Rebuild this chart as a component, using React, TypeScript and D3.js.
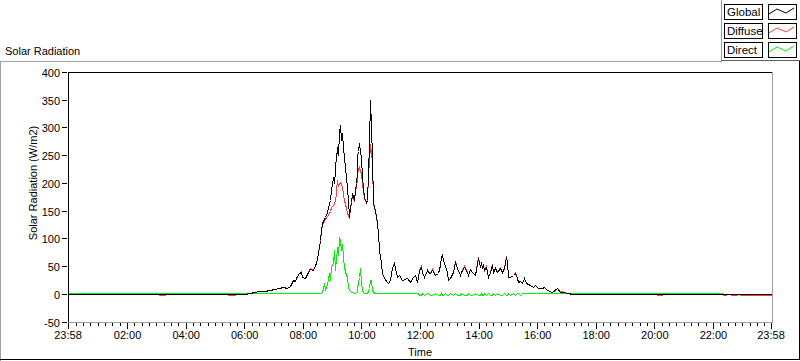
import React from 'react';
import * as d3 from 'd3';

// ---- data ----
const times = [
  '23:58','03:04','03:05','03:17','03:18','05:25','05:26','05:42','05:43','05:50',
  '06:00','06:11','06:20','06:31','06:40','06:52','07:00','07:12','07:20','07:27',
  '07:33','07:39','07:43','07:47','07:53','07:57','07:59','08:05','08:10','08:14',
  '08:20','08:24','08:28','08:32','08:36','08:38','08:40','08:44','08:46','08:49',
  '08:53','08:55','08:58','09:01','09:03','09:05','09:07','09:09','09:11','09:13',
  '09:15','09:17','09:19','09:21','09:23','09:25','09:28','09:30','09:32','09:34',
  '09:36','09:38','09:40','09:42','09:44','09:46','09:48','09:50','09:52','09:54',
  '09:56','09:58','10:00','10:02','10:04','10:06','10:09','10:11','10:13','10:15',
  '10:17','10:19','10:21','10:23','10:27','10:31','10:33','10:37','10:41','10:43',
  '10:47','10:52','10:54','10:58','11:02','11:06','11:08','11:12','11:18','11:24',
  '11:33','11:39','11:45','11:49','11:53','11:55','11:59','12:03','12:05','12:09',
  '12:14','12:16','12:20','12:24','12:30','12:36','12:40','12:44','12:46','12:48',
  '12:52','12:55','12:57','13:01','13:07','13:11','13:15','13:21','13:25','13:31',
  '13:36','13:38','13:42','13:46','13:52','13:58','14:02','14:04','14:08','14:10',
  '14:12','14:16','14:19','14:23','14:27','14:29','14:33','14:37','14:43','14:49',
  '14:53','14:57','14:59','15:01','15:04','15:10','15:14','15:18','15:20','15:24',
  '15:28','15:34','15:38','15:45','15:51','15:55','16:01','16:09','16:15','16:21',
  '16:30','16:40','16:46','16:56','17:02','17:13','20:05','20:06','20:16','20:17',
  '22:19','22:20','22:26','22:27','22:44','22:50','22:51','22:58','23:58',
];

const globalVals = [
  0,0,0,0,0,0,0,0,0,0,
  0.5,1,3,5,6,8,9,11,12,10,
  14,25,23,29,37,40,31,29,40,45,
  43,52,55,74,97,115,128,135,139,148,
  164,170,187,211,200,223,254,240,265,250,
  290,305,277,290,265,247,211,190,169,139,
  157,165,181,175,170,187,200,218,247,258,
  272,255,247,211,190,175,165,169,218,272,
  350,300,247,164,151,128,110,79,56,38,
  29,22,20,25,47,56,47,31,34,25,
  29,22,31,34,22,31,43,49,40,31,
  43,40,38,43,34,38,52,67,70,61,
  50,40,25,29,40,58,47,34,40,49,
  40,34,45,40,34,65,49,58,47,52,
  43,49,31,40,52,40,47,40,47,40,
  47,67,58,31,31,34,38,29,22,24,
  20,29,20,16,13,16,11,11,13,7,
  4,11,4,4,2,0,0,0,0,0,
  0,0,0,0,0,0,0,0,0,
];

const diffuseVals = [
  0,0,-1.5,-1.5,0,0,-1.5,-1.5,0,0,
  0.5,1,3,5,6,8,9,11,12,10,
  14,25,23,29,37,42,31,29,40,47,
  43,52,55,74,96,113,126,133,135,140,
  146,150,157,160,162,170,180,187,205,195,
  200,202,198,193,180,169,155,146,142,137,
  155,163,178,172,168,185,195,205,215,225,
  229,222,218,200,185,173,165,168,215,240,
  270,255,235,162,150,128,110,79,56,38,
  29,22,20,25,47,58,47,31,34,25,
  29,22,31,34,22,31,43,51,40,31,
  43,40,38,45,34,38,52,67,72,61,
  50,40,25,29,40,60,47,34,40,51,
  40,34,45,40,34,67,49,58,47,52,
  43,51,31,40,54,40,47,40,49,40,
  47,69,58,31,31,34,40,29,22,24,
  20,29,20,16,13,16,11,11,13,8,
  4,11,5,4,2,0,0,-1.5,-1.5,0,
  0,-1.5,-1.5,0,-1.5,-1.5,0,-1.5,-1.5,
];

const directVals = [
  2,2,2,2,2,2,2,2,2,2,
  2,2,2,2,2,2,2,2,2,2,
  2,2,2,2,2,2,2,2,2,2,
  2,2,2,2,2,2,3,20,8,18,
  38,25,50,56,79,43,67,60,85,70,
  101,97,79,90,67,49,35,31,13,7,
  5,3,3,3,2,2,3,5,13,20,
  30,47,20,8,3,2,2,2,5,10,
  25,25,8,3,2,2,2,2,2,2,
  2,2,2,2,2,2,2,2,2,2,
  2,2,2,2,2,2,-1.5,-1.5,2,-1.5,
  2,2,-1.5,-1.5,2,-1.5,-1.5,2,-1.5,-1.5,
  2,-1.5,-1.5,2,-1.5,2,-1.5,-1.5,2,-1.5,
  -1.5,2,-1.5,-1.5,2,-1.5,-1.5,2,-1.5,-1.5,
  2,-1.5,2,-1.5,-1.5,2,-1.5,2,-1.5,-1.5,
  2,-1.5,-1.5,2,-1.5,2,-1.5,2,2,-1.5,
  2,2,2,2,2,2,2,2,2,2,
  2,2,2,2,2,2,2,2,2,2,
  2,0,0,0,0,0,0,0,0,
];

const yTicks = [-50, 0, 50, 100, 150, 200, 250, 300, 350, 400];
const xTickLabels = ['23:58','02:00','04:00','06:00','08:00','10:00','12:00','14:00','16:00','18:00','20:00','22:00','23:58'];
const legendNames = ['Global', 'Diffuse', 'Direct'];
const legendColors = ['#000000', '#ff3c3c', '#00f000'];

const FONT = '"Liberation Sans", Arial, sans-serif';

function toMin(s: string, i: number): number {
  const [h, m] = s.split(':').map(Number);
  let v = h * 60 + m;
  if (i === 0 && v > 720) v -= 1440;
  return v;
}

const px = (v: number) => Math.floor(v) + 0.5;

export default function App() {
  const x = d3.scaleLinear().domain([-2, 1438]).range([68, 771]);
  const y = d3.scaleLinear().domain([-50, 400]).range([322.3, 72.3]);
  const tMin = times.map((t, i) => toMin(t, i));

  const mk = (vals: number[]) =>
    d3.line<number>()
      .x((_, i) => px(x(tMin[i])))
      .y((v) => px(y(v)))(vals) || '';

  const majors = xTickLabels.map((t, i) => toMin(t, i));
  const minors: number[] = [];
  for (let m = 0; m < 1438; m += 15) {
    if (m % 120 !== 0) minors.push(m);
  }

  return (
    <svg width={800} height={361} style={{ position: 'absolute', left: 0, top: 0, background: '#fff' }}
      fontFamily={FONT} fontSize={11}>
      <rect x={0} y={0} width={800} height={361} fill="#fff" />
      {/* title */}
      <text x={5} y={55} fill="#000">Solar Radiation</text>
      {/* outer panel frame */}
      <g shapeRendering="crispEdges">
        <line x1={0} x2={722} y1={61.5} y2={61.5} stroke="#a0a0a0" />
        <line x1={0.5} x2={0.5} y1={61} y2={361} stroke="#a0a0a0" />
        <line x1={0} x2={800} y1={359.5} y2={359.5} stroke="#000" />
        <line x1={799.5} x2={799.5} y1={60} y2={360} stroke="#000" />
        {/* legend frame */}
        <line x1={721.5} x2={721.5} y1={0} y2={61} stroke="#a0a0a0" />
        <line x1={721} x2={800} y1={60.5} y2={60.5} stroke="#606060" />
      </g>

      {/* legend */}
      {legendNames.map((n, i) => {
        const ty = 4 + i * 19;
        const zz = [[1, 10], [9, 5], [18, 9], [26, 4]];
        return (
          <g key={n}>
            <rect x={724.5} y={ty + 0.5} width={38} height={15} fill="#fff" stroke="#000" shapeRendering="crispEdges" />
            <text x={727} y={ty + 12} fill="#000" fontSize={11.5}>{n}</text>
            <rect x={768.5} y={ty + 0.5} width={28} height={15} fill="#fff" stroke="#000" shapeRendering="crispEdges" />
            <polyline points={zz.map(([a, b]) => `${768 + a},${ty + b}`).join(' ')} fill="none" stroke={legendColors[i]} strokeWidth={1} />
          </g>
        );
      })}

      {/* plot area */}
      <rect x={68} y={72} width={704} height={250} fill="#fff" />
      <g fill="none" strokeWidth={1} shapeRendering="crispEdges">
        <path d={mk(directVals)} stroke={legendColors[2]} />
        <path d={mk(diffuseVals)} stroke={legendColors[1]} />
        <path d={mk(globalVals)} stroke={legendColors[0]} />
      </g>
      <g shapeRendering="crispEdges">
        <line x1={68.5} x2={68.5} y1={72} y2={323} stroke="#000" />
        <line x1={68} x2={772} y1={72.5} y2={72.5} stroke="#000" />
        <line x1={772.5} x2={772.5} y1={72} y2={323} stroke="#a0a0a0" />
        <line x1={68} x2={773} y1={322.5} y2={322.5} stroke="#a0a0a0" />
      </g>

      {/* y axis */}
      <g shapeRendering="crispEdges">
        {yTicks.map((v) => (
          <line key={v} x1={62} x2={67} y1={px(y(v))} y2={px(y(v))} stroke="#000" />
        ))}
      </g>
      {yTicks.map((v) => (
        <text key={v} x={60} y={px(y(v)) + 4} textAnchor="end" fill="#000">{v}</text>
      ))}
      <text transform="translate(36.5,183) rotate(-90)" textAnchor="middle" fill="#000">Solar Radiation (W/m2)</text>

      {/* x axis */}
      <g shapeRendering="crispEdges">
        {minors.map((m) => (
          <line key={m} x1={px(x(m))} x2={px(x(m))} y1={323} y2={326} stroke="#000" />
        ))}
        {majors.map((m, i) => (
          <line key={i} x1={px(x(m))} x2={px(x(m))} y1={323} y2={329} stroke="#000" />
        ))}
      </g>
      {xTickLabels.map((t, i) => (
        <text key={i} x={x(majors[i])} y={339} textAnchor="middle" fill="#000">{t}</text>
      ))}
      <text x={420} y={356} textAnchor="middle" fill="#000">Time</text>
    </svg>
  );
}
